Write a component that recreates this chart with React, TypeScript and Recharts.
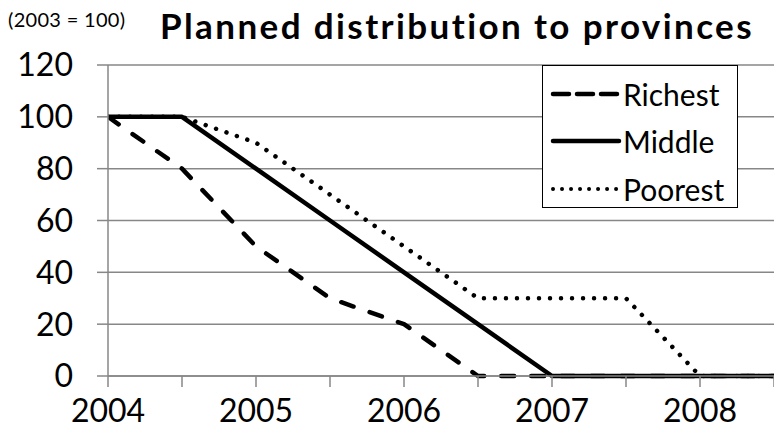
import React from 'react';
import { LineChart, Line, XAxis, YAxis, CartesianGrid, Legend } from 'recharts';

const years = [2004, 2004.5, 2005, 2005.5, 2006, 2006.5, 2007, 2007.5, 2008, 2008.5];
const richest = [100, 80, 50, 30, 20, 0, 0, 0, 0, 0];
const middle = [100, 100, 80, 60, 40, 20, 0, 0, 0, 0];
const poorest = [100, 100, 90, 70, 50, 30, 30, 30, 0, 0];
const yTicks = [0, 20, 40, 60, 80, 100, 120];
const xTicks = years;

const data = years.map((y, i) => ({ year: y, Richest: richest[i], Middle: middle[i], Poorest: poorest[i] }));

const FONT = 'Lato, "Open Sans", sans-serif';
const GRID = '#878787';

const styles: Record<string, { dash?: string; width: number }> = {
  Richest: { dash: '13 17', width: 4.5 },
  Middle: { width: 4.5 },
  Poorest: { dash: '0.01 11', width: 4.5 },
};

const LegendBox = (props: any) => {
  const order = ['Richest', 'Middle', 'Poorest'];
  return (
    <div
      style={{
        border: '1.5px solid #000',
        background: '#fff',
        width: 196,
        height: 143,
        boxSizing: 'border-box',
        paddingTop: 4,
        fontFamily: FONT,
      }}
    >
      {order.map((name) => (
        <div key={name} style={{ display: 'flex', alignItems: 'center', height: 47.5 }}>
          <svg width={80} height={20} style={{ marginLeft: 6 }}>
            <line
              x1={4}
              y1={10}
              x2={70}
              y2={10}
              stroke="#000"
              strokeWidth={name === 'Poorest' ? 4 : 4.5}
              strokeDasharray={name === 'Richest' ? '16 8' : name === 'Poorest' ? '0.01 9' : undefined}
              strokeLinecap="round"
            />
          </svg>
          <span style={{ fontSize: 30, color: '#000', marginLeft: -6, lineHeight: 1 }}>{name}</span>
        </div>
      ))}
    </div>
  );
};

export default function App() {
  return (
    <div style={{ position: 'absolute', left: 0, top: 0, width: 774, height: 432, background: '#fff' }}>
      <div
        style={{
          position: 'absolute',
          left: 8,
          top: 7,
          fontFamily: FONT,
          fontSize: 20,
          letterSpacing: 0.3,
          color: '#000',
          whiteSpace: 'nowrap',
        }}
      >
        (2003 = 100)
      </div>
      <div
        style={{
          position: 'absolute',
          left: 160,
          top: 8,
          fontFamily: FONT,
          fontSize: 35,
          lineHeight: '35px',
          letterSpacing: 2.4,
          fontWeight: 'bold',
          color: '#000',
          whiteSpace: 'nowrap',
        }}
      >
        Planned distribution to provinces
      </div>
      <LineChart
        width={774}
        height={432}
        data={data}
        margin={{ top: 65, right: 0, bottom: 0, left: 0 }}
        style={{ position: 'absolute', left: 0, top: 0 }}
      >
        <CartesianGrid vertical={false} stroke={GRID} strokeWidth={1.5} />
        <XAxis
          dataKey="year"
          type="number"
          domain={[2004, 2008.5]}
          ticks={xTicks}
          interval={0}
          tickFormatter={(v: number) => (Number.isInteger(v) ? String(v) : '')}
          stroke={GRID}
          strokeWidth={1.5}
          tickSize={11}
          tickMargin={12}
          height={56}
          tick={{ fill: '#000', fontSize: 32, fontFamily: FONT }}
          allowDataOverflow
        />
        <YAxis
          type="number"
          domain={[0, 120]}
          ticks={yTicks}
          interval={0}
          stroke={GRID}
          strokeWidth={1.5}
          tickSize={11}
          tickMargin={24}
          width={108}
          tick={{ fill: '#000', fontSize: 32, fontFamily: FONT }}
        />
        <Legend
          content={<LegendBox />}
          layout="vertical"
          verticalAlign="middle"
          align="center"
          wrapperStyle={{ position: 'absolute', left: 542, top: 65, width: 196, height: 143 }}
        />
        {(['Richest', 'Middle', 'Poorest'] as const).map((k) => (
          <Line
            key={k}
            dataKey={k}
            type="linear"
            stroke="#000"
            strokeWidth={styles[k].width}
            strokeDasharray={styles[k].dash}
            strokeLinecap="round"
            strokeLinejoin="round"
            dot={false}
            activeDot={false}
            isAnimationActive={false}
          />
        ))}
      </LineChart>
    </div>
  );
}
